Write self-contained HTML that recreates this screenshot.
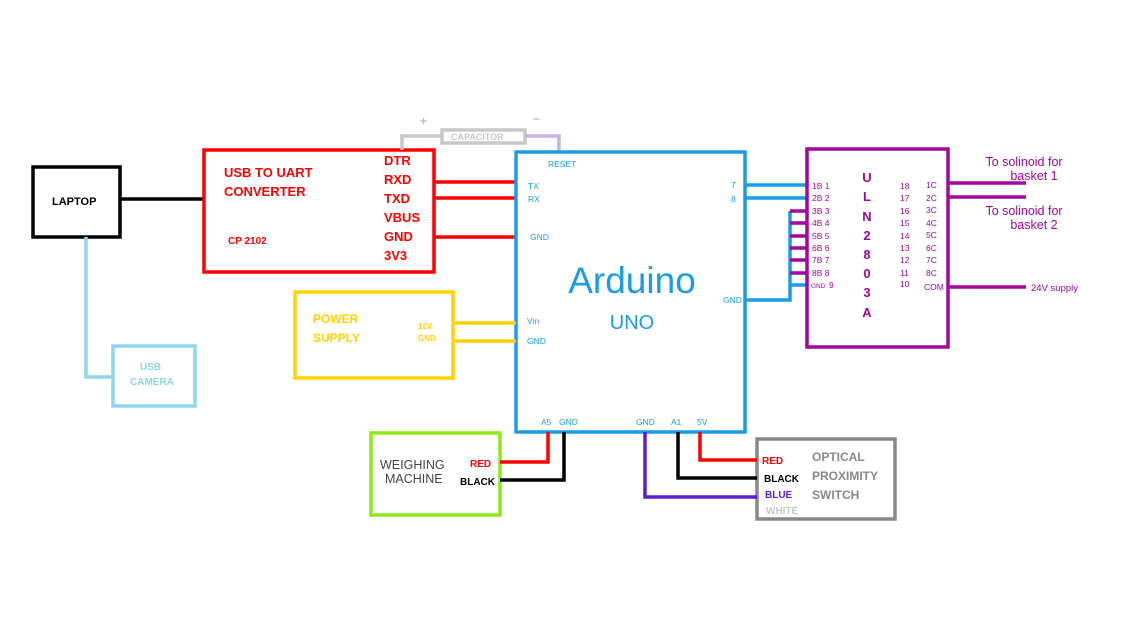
<!DOCTYPE html>
<html><head><meta charset="utf-8"><style>html,body{margin:0;padding:0;background:#fff}svg{display:block}text{font-family:"Liberation Sans",sans-serif}</style></head><body>
<svg width="1141" height="633" viewBox="0 0 1141 633" xmlns="http://www.w3.org/2000/svg">
<g fill="none" stroke-width="3.5">
<rect x="33" y="167" width="87" height="70" stroke="#000"/>
<line x1="120" y1="199" x2="204" y2="199" stroke="#000"/>
<polyline points="86,237 86,377 113,377" stroke="#8ed6ec"/>
<rect x="113" y="346" width="82" height="60" stroke="#8ed6ec"/>
<rect x="204" y="150" width="230" height="122" stroke="#ff0000"/>
<line x1="434" y1="182" x2="516" y2="182" stroke="#ff0000"/>
<line x1="434" y1="198" x2="516" y2="198" stroke="#ff0000"/>
<line x1="434" y1="237" x2="516" y2="237" stroke="#ff0000"/>
<polyline points="402,150 402,136 442,136" stroke="#c8c8c8"/>
<rect x="442" y="130" width="83" height="13" stroke="#c8c8c8"/>
<polyline points="525,136 559,136 559,152" stroke="#c9b0e6"/>
<rect x="516" y="152" width="229" height="280" stroke="#1a9be8"/>
<rect x="295" y="292" width="158" height="86" stroke="#ffd200"/>
<line x1="453" y1="323" x2="516" y2="323" stroke="#ffd200"/>
<line x1="453" y1="341" x2="516" y2="341" stroke="#ffd200"/>
<line x1="745" y1="185" x2="807" y2="185" stroke="#1a9be8"/>
<line x1="745" y1="198" x2="807" y2="198" stroke="#1a9be8"/>
<polyline points="745,300 790,300 790,211" stroke="#1a9be8"/>
<g stroke="#a0079f">
<line x1="790" y1="211" x2="807" y2="211"/><line x1="790" y1="223" x2="807" y2="223"/>
<line x1="790" y1="236" x2="807" y2="236"/><line x1="790" y1="248" x2="807" y2="248"/>
<line x1="790" y1="260" x2="807" y2="260"/><line x1="790" y1="273" x2="807" y2="273"/>
</g>
<line x1="790" y1="285" x2="807" y2="285" stroke="#1a9be8"/>
<rect x="807" y="149" width="141" height="198" stroke="#a0079f"/>
<line x1="948" y1="183" x2="1026" y2="183" stroke="#a0079f"/>
<line x1="948" y1="197" x2="1026" y2="197" stroke="#a0079f"/>
<line x1="948" y1="287" x2="1026" y2="287" stroke="#a0079f"/>
<rect x="371" y="433" width="129" height="82" stroke="#8ee81a"/>
<polyline points="500,462 548,462 548,432" stroke="#ff0000"/>
<polyline points="500,480 564,480 564,432" stroke="#000"/>
<rect x="757" y="439" width="138" height="80" stroke="#888"/>
<polyline points="700,432 700,460 757,460" stroke="#ff0000"/>
<polyline points="678,432 678,478 757,478" stroke="#000"/>
<polyline points="645,432 645,497 757,497" stroke="#5a1ed0"/>
</g>
<g font-weight="bold">
<text x="52" y="205" font-size="11">LAPTOP</text>
<g fill="#8ed6ec" font-size="10"><text x="140" y="370">USB</text><text x="130" y="385">CAMERA</text></g>
<g fill="#ff0000" font-size="13"><text x="224" y="177">USB TO UART</text><text x="224" y="196">CONVERTER</text></g>
<text x="228" y="244" fill="#ff0000" font-size="10">CP 2102</text>
<g fill="#ff0000" font-size="13"><text x="384" y="165">DTR</text><text x="384" y="184">RXD</text><text x="384" y="203">TXD</text><text x="384" y="222">VBUS</text><text x="384" y="241">GND</text><text x="384" y="260">3V3</text></g>
<text x="451" y="140" fill="#c8c8c8" font-size="9">CAPACITOR</text>
<text x="420" y="125" fill="#c9b0e6" font-size="12">+</text>
<text x="533" y="123" fill="#c9b0e6" font-size="12">−</text>
<g fill="#1a9be8" font-size="8.5" font-weight="normal">
<text x="548" y="167">RESET</text><text x="528" y="189">TX</text><text x="528" y="202">RX</text><text x="530" y="240">GND</text>
<text x="731" y="188">7</text><text x="731" y="202">8</text><text x="723" y="303">GND</text>
<text x="527" y="324">Vin</text><text x="527" y="344">GND</text>
<text x="541" y="425">A5</text><text x="559" y="425">GND</text><text x="636" y="425">GND</text><text x="671" y="425">A1</text><text x="697" y="425">5V</text>
</g>
<text x="632" y="293" fill="#1a9be8" font-size="37" font-weight="normal" text-anchor="middle">Arduino</text>
<text x="632" y="329" fill="#1a9be8" font-size="20" font-weight="normal" text-anchor="middle">UNO</text>
<g fill="#ffd200"><text x="313" y="323" font-size="12">POWER</text><text x="313" y="342" font-size="12">SUPPLY</text>
<text x="418" y="329" font-size="8">12V</text><text x="418" y="341" font-size="8">GND</text></g>
<g fill="#a0079f" font-size="8.5" font-weight="normal">
<text x="812" y="189">1B  1</text><text x="812" y="201">2B  2</text><text x="812" y="214">3B  3</text><text x="812" y="226">4B  4</text><text x="812" y="239">5B  5</text><text x="812" y="251">6B  6</text><text x="812" y="263">7B  7</text><text x="812" y="276">8B  8</text><text x="811" y="288" font-size="6.5">GND</text><text x="829" y="288">9</text>
<text x="900" y="189">18</text><text x="900" y="201">17</text><text x="900" y="214">16</text><text x="900" y="226">15</text><text x="900" y="239">14</text><text x="900" y="251">13</text><text x="900" y="263">12</text><text x="900" y="276">11</text><text x="900" y="287">10</text>
<text x="926" y="188">1C</text><text x="926" y="201">2C</text><text x="926" y="213">3C</text><text x="926" y="226">4C</text><text x="926" y="238">5C</text><text x="926" y="251">6C</text><text x="926" y="263">7C</text><text x="926" y="276">8C</text><text x="924" y="290">COM</text>
</g>
<g fill="#a0079f" font-size="13" text-anchor="middle"><text x="867" y="182">U</text><text x="867" y="201">L</text><text x="867" y="221">N</text><text x="867" y="240">2</text><text x="867" y="259">8</text><text x="867" y="278">0</text><text x="867" y="297">3</text><text x="867" y="317">A</text></g>
<g fill="#a0079f" font-size="12.5" font-weight="normal" text-anchor="middle"><text x="1024" y="166">To solinoid for</text><text x="1034" y="180">basket 1</text><text x="1024" y="215">To solinoid for</text><text x="1034" y="229">basket 2</text></g>
<text x="1031" y="291" fill="#a0079f" font-size="9.5" font-weight="normal">24V supply</text>
<g fill="#444" font-size="12.5" font-weight="normal"><text x="380" y="469">WEIGHING</text><text x="385" y="483">MACHINE</text></g>
<text x="470" y="467" fill="#ff0000" font-size="10">RED</text><text x="460" y="485" fill="#000" font-size="10">BLACK</text>
<text x="762" y="464" fill="#ff0000" font-size="10">RED</text><text x="764" y="482" fill="#000" font-size="10">BLACK</text>
<text x="765" y="498" fill="#5a1ed0" font-size="10">BLUE</text><text x="766" y="514" fill="#c8c8c8" font-size="10">WHITE</text>
<g fill="#888" font-size="12"><text x="812" y="461">OPTICAL</text><text x="812" y="480">PROXIMITY</text><text x="812" y="499">SWITCH</text></g>
</g>
</svg>
</body></html>
